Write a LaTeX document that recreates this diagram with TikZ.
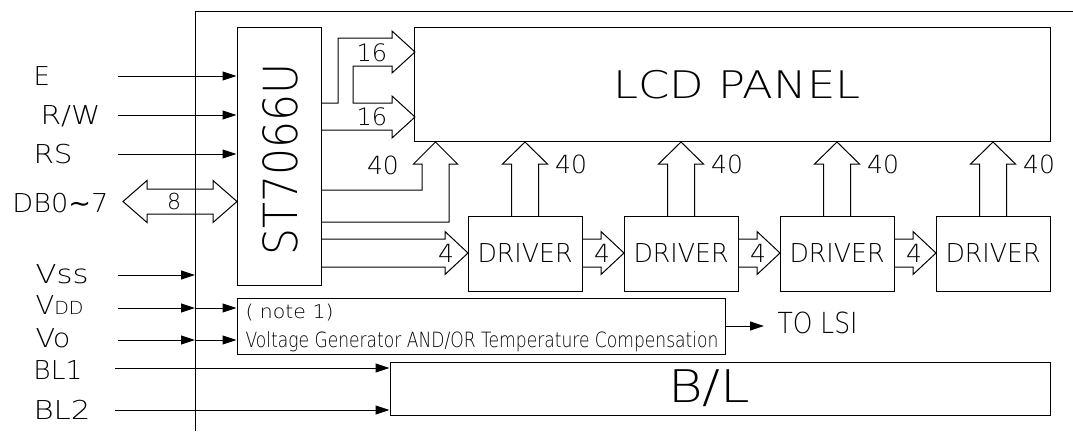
\documentclass[tikz,border=0pt]{standalone}
\usepackage{fontspec}
\IfFontExistsTF{DejaVu Sans ExtraLight}
  {\setmainfont{DejaVu Sans ExtraLight}}
  {\setmainfont{Liberation Sans}}
\newfontfamily\symfont{DejaVu Sans}
\usetikzlibrary{arrows.meta}
\newcommand{\fw}[2]{\resizebox{#1}{\height}{#2}}
\newcommand{\fsz}[1]{\fontsize{#1}{#1}\selectfont}
\begin{document}
\begin{tikzpicture}[x=1pt,y=-1pt,line width=1pt,
  box/.style={draw,rectangle,inner sep=0pt,line width=1pt},
  lbl/.style={inner sep=0pt,anchor=base west,font=\fsz{26}},
  num/.style={inner sep=0pt,font=\fsz{25}},
  sig/.style={-{Triangle[length=14pt,width=9pt]}},
  bus/.style={line width=1pt,line join=miter}]
\useasboundingbox (0,0) rectangle (1073,431);

% outer frame
\coordinate (frameTop) at (195,11);
\draw (195,431) -- (frameTop) -- (1073,11);

% blocks
\node[box,minimum width=84pt,minimum height=258pt] (st) at (279,156) {};
\node[rotate=90,inner sep=0pt,font=\fsz{47}] (sttext) at (280,159) {\fw{192pt}{ST7066U}};
\node[box,minimum width=636pt,minimum height=114pt] (lcd) at (732,84) {};
\node[inner sep=0pt,font=\fsz{38}] (lcdtext) at (737,84.5) {\fw{247pt}{LCD PANEL}};
\foreach \cx [count=\i] in {525,681,837,993}
  \node[box,minimum width=114pt,minimum height=75pt,font=\fsz{26}] (d\i) at (\cx,253.5) {\fw{95pt}{DRIVER}};
\node[box,minimum width=488pt,minimum height=56pt] (vg) at (481,326) {};
\node[inner sep=0pt,anchor=base west,font=\fsz{19}] (note) at (245,318) {\fw{88pt}{( note 1)}};
\node[inner sep=0pt,anchor=base west,font=\fsz{21}] (vgtext) at (245,347) {\fw{473pt}{Voltage Generator AND/OR Temperature Compensation}};
\node[box,minimum width=660pt,minimum height=53pt] (bl) at (720,388.5) {};
\node[inner sep=0pt,anchor=base,font=\fsz{45}] (bltext) at (709,402) {\fw{82pt}{B/L}};
\node[inner sep=0pt,anchor=base west,font=\fsz{29}] (tolsi) at (777,333) {\fw{80pt}{TO LSI}};

% left labels
\node[lbl] (lE)   at (33,85)  {E};
\node[lbl] (lRW)  at (40,124) {\fw{60pt}{R/W}};
\node[lbl] (lRS)  at (33,163) {\fw{39pt}{RS}};
\node[lbl] (lDB)  at (12,212) {\fw{96pt}{DB0{\symfont\char"223C}7}};
\node[lbl] (lVss) at (35,283) {\fw{53pt}{Vss}};
\node[lbl] (lVdd) at (35,314) {\fw{48pt}{V{\fsz{18}DD}}};
\node[lbl] (lVo)  at (35,347) {\fw{35pt}{Vo}};
\node[lbl] (lBL1) at (33,379) {\fw{49pt}{BL1}};
\node[lbl] (lBL2) at (33,419) {\fw{57pt}{BL2}};

% signal arrows
\coordinate (eS)   at (118,76);
\coordinate (rwS)  at (118,115);
\coordinate (rsS)  at (118,154);
\coordinate (vssS) at (118,275);
\coordinate (vddS) at (118,308);
\coordinate (voS)  at (118,340);
\coordinate (bl1S) at (115,368);
\coordinate (bl2S) at (115,410);
\draw[sig] (eS)  -- (st.west |- eS);
\draw[sig] (rwS) -- (st.west |- rwS);
\draw[sig] (rsS) -- (st.west |- rsS);
\draw[sig] (vssS) -- (frameTop |- vssS);
\draw[sig] (vddS) -- (frameTop |- vddS);
\draw[sig] (frameTop |- vddS) -- (vg.west |- vddS);
\draw[sig] (voS) -- (frameTop |- voS);
\draw[sig] (frameTop |- voS) -- (vg.west |- voS);
\draw[sig] (bl1S) -- (bl.west |- bl1S);
\draw[sig] (bl2S) -- (bl.west |- bl2S);
\draw[sig] (vg.east) -- ([xshift=-13pt]tolsi.west |- vg.east);

% DB0~7 double bus arrow
\draw[bus] (123,201.5) -- (147,180.5) -- (147,189) -- (213,189) -- (213,180.5) -- (237,201.5)
  -- (213,222.5) -- (213,214) -- (147,214) -- (147,222.5) -- cycle;
\node[num,font=\fsz{22}] (n8) at (174,201.5) {8};

% 16 buses to LCD
\draw[bus] (321,103) -- (338,103) -- (338,38) -- (392,38) -- (392,31) -- (415,52) -- (392,73)
  -- (392,66) -- (353,66) -- (353,103) -- (392,103) -- (392,96) -- (415,117) -- (392,138)
  -- (392,130) -- (321,130);
\node[num,font=\fsz{24}] (n16a) at (372,53) {16};
\node[num,font=\fsz{24}] (n16b) at (372,117) {16};

% 40 bus from controller
\draw[bus] (321,190) -- (422,190) -- (422,164) -- (413.5,164) -- (435.5,142) -- (457.5,164)
  -- (449,164) -- (449,222) -- (321,222);
\node[num] (n40s) at (383,165) {40};

% 40 buses from drivers
\foreach \cx in {525,681,837,993}{
  \draw[bus] ({\cx-13.5},216) -- ({\cx-13.5},164) -- ({\cx-22.5},164) -- (\cx,142)
    -- ({\cx+22.5},164) -- ({\cx+13.5},164) -- ({\cx+13.5},216);
  \node[num] at ({\cx+46},164) {40};
}

% 4 buses
\draw[bus] (321,239) -- (445,239) -- (445,231.5) -- (468,253) -- (445,274.5) -- (445,267) -- (321,267);
\node[num] (n4s) at (446,253) {4};
\foreach \xr/\xt in {582/624,738/780,894/936}{
  \draw[bus] (\xr,239) -- ({\xt-23},239) -- ({\xt-23},231.5) -- (\xt,253) -- ({\xt-23},274.5)
    -- ({\xt-23},267) -- (\xr,267);
  \node[num] at ({\xt-22},253) {4};
}
\end{tikzpicture}
\end{document}
